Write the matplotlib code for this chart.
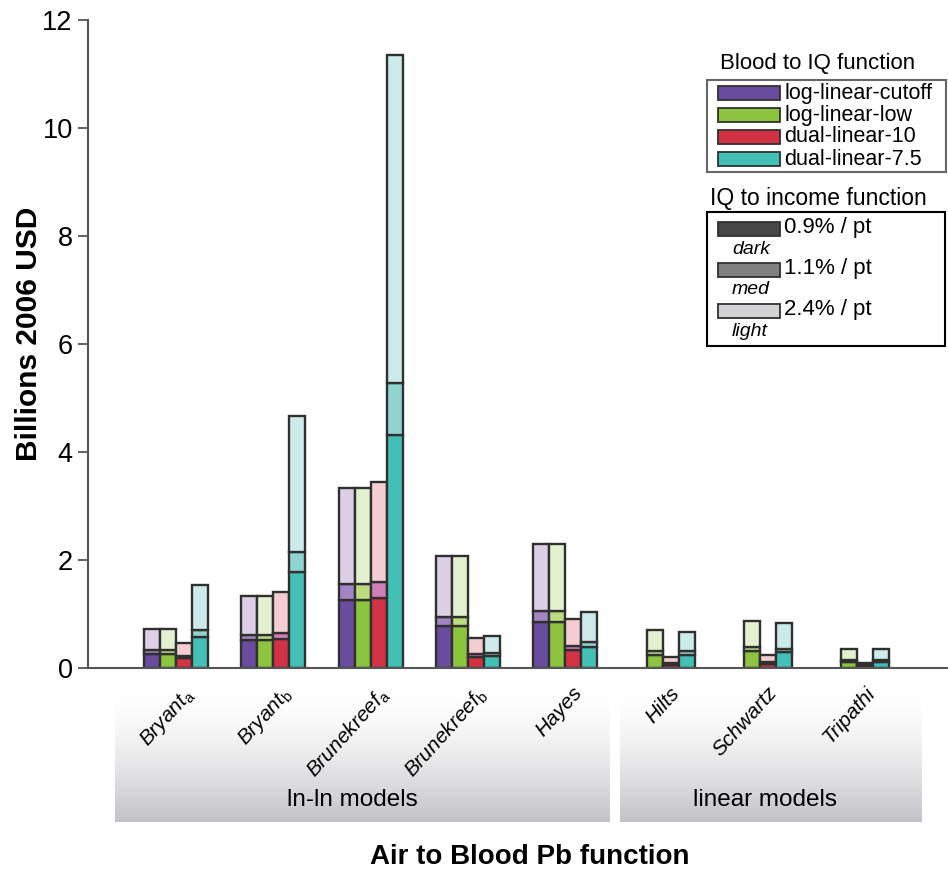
import numpy as np
import matplotlib
matplotlib.use("Agg")
import matplotlib.pyplot as plt
from matplotlib.patches import Rectangle

plt.rcParams["font.family"] = ["Liberation Sans", "DejaVu Sans"]
plt.rcParams["mathtext.fontset"] = "custom"
plt.rcParams["mathtext.rm"] = "Liberation Sans"
plt.rcParams["mathtext.it"] = "Liberation Sans:italic"

nan = np.nan

# Air to Blood Pb functions (x categories)
studies = [r"Bryant$_{\mathrm{a}}$", r"Bryant$_{\mathrm{b}}$",
           r"Brunekreef$_{\mathrm{a}}$", r"Brunekreef$_{\mathrm{b}}$",
           "Hayes", "Hilts", "Schwartz", "Tripathi"]
groups = ["ln-ln models", "linear models"]

# Blood to IQ functions
functions = ["log-linear-cutoff", "log-linear-low",
             "dual-linear-10", "dual-linear-7.5"]

# cumulative values (billions 2006 USD) for each IQ to income slope
cutoff_dark = [0.26, 0.51, 1.26, 0.78, 0.86, nan, nan, nan]
cutoff_med = [0.33, 0.61, 1.55, 0.95, 1.06, nan, nan, nan]
cutoff_light = [0.72, 1.33, 3.33, 2.07, 2.30, nan, nan, nan]

low_dark = [0.26, 0.51, 1.26, 0.78, 0.86, 0.25, 0.32, 0.12]
low_med = [0.33, 0.61, 1.55, 0.95, 1.06, 0.32, 0.39, 0.15]
low_light = [0.72, 1.33, 3.33, 2.07, 2.30, 0.71, 0.87, 0.36]

d10_dark = [0.18, 0.54, 1.30, 0.20, 0.33, 0.06, 0.08, 0.03]
d10_med = [0.22, 0.65, 1.59, 0.26, 0.40, 0.09, 0.12, 0.05]
d10_light = [0.46, 1.41, 3.44, 0.56, 0.90, 0.20, 0.25, 0.10]

d75_dark = [0.57, 1.77, 4.31, 0.22, 0.38, 0.24, 0.29, 0.12]
d75_med = [0.70, 2.15, 5.27, 0.27, 0.48, 0.31, 0.35, 0.15]
d75_light = [1.54, 4.67, 11.35, 0.60, 1.04, 0.67, 0.83, 0.35]

income_labels = ["0.9% / pt", "1.1% / pt", "2.4% / pt"]
shade_names = ["dark", "med", "light"]

series = [
    (cutoff_dark, cutoff_med, cutoff_light),
    (low_dark, low_med, low_light),
    (d10_dark, d10_med, d10_light),
    (d75_dark, d75_med, d75_light),
]

colors = [
    ("#6a4c9e", "#a285c2", "#dccfe6"),
    ("#8cc43f", "#bcdb80", "#e3f0d0"),
    ("#d23243", "#d07fbb", "#f3cdd2"),
    ("#43c0b6", "#8fd4d0", "#cdeaea"),
]
legend_grays = ["#474747", "#808080", "#d2d2d4"]
edge = "#303030"

W, H = 948, 872
fig = plt.figure(figsize=(W / 100, H / 100), dpi=100)


def fx(x):
    return x / W


def fy(y):
    return 1 - y / H


# gradient boxes behind the group labels
grad = np.linspace(0, 1, 200) ** 1.6
grad_img = np.ones((200, 2, 3))
for c, lo in enumerate([0.76, 0.76, 0.78]):
    grad_img[:, :, c] = (1 - grad * (1 - lo))[:, None]
for (x0, x1) in [(115, 610), (620, 922)]:
    gax = fig.add_axes([fx(x0), fy(822), fx(x1 - x0), (822 - 690) / H])
    gax.imshow(grad_img, aspect="auto", extent=[0, 1, 0, 1])
    gax.set_axis_off()
    gax.set_zorder(0)

ax = fig.add_axes([fx(88), fy(668), fx(W - 88), (668 - 20) / H])
ax.set_zorder(2)
ax.patch.set_alpha(0)

x = np.arange(len(studies))
w = 0.164
for i, ((dark, med, light), cols) in enumerate(zip(series, colors)):
    xpos = x + (i - 1.5) * w
    dark = np.array(dark)
    med = np.array(med)
    light = np.array(light)
    ax.bar(xpos, dark, w, color=cols[0], edgecolor=edge, linewidth=1.7)
    ax.bar(xpos, med - dark, w, bottom=dark, color=cols[1],
           edgecolor=edge, linewidth=1.7)
    ax.bar(xpos, light - med, w, bottom=med, color=cols[2],
           edgecolor=edge, linewidth=1.7)

ax.set_xlim(-0.903, 7.93)
ax.set_ylim(0, 12)
ax.set_yticks(range(0, 13, 2))
ax.set_xticks([])
ax.tick_params(axis="y", labelsize=19.5, length=7, width=1.3,
               color="#555555", pad=4)
for s in ["top", "right"]:
    ax.spines[s].set_visible(False)
for s in ["left", "bottom"]:
    ax.spines[s].set_color("#555555")
    ax.spines[s].set_linewidth(1.5)

ax.set_ylabel("Billions 2006 USD", fontsize=21.5, fontweight="bold")
ax.yaxis.set_label_coords(-0.052, 0.515)

for xi, name in zip(x, studies):
    ax.text(xi + 0.07, -0.024, name, transform=ax.get_xaxis_transform(),
            rotation=48, rotation_mode="anchor", ha="right", va="top",
            fontsize=15, style="italic")

fig.text(fx(352), fy(800), groups[0], ha="center", va="center",
         fontsize=17.5)
fig.text(fx(765), fy(800), groups[1], ha="center", va="center",
         fontsize=17.5)
fig.text(fx(530), fy(857), "Air to Blood Pb function", ha="center",
         va="center", fontsize=20, fontweight="bold")

# legend: Blood to IQ function
fig.text(fx(720), fy(63), "Blood to IQ function", ha="left", va="center",
         fontsize=16)
fig.patches.append(Rectangle((fx(707), fy(172)), fx(948 - 707 - 2),
                             (172 - 80) / H, transform=fig.transFigure,
                             facecolor="white", edgecolor="#666666",
                             linewidth=1.5))
for k, (name, cols) in enumerate(zip(functions, colors)):
    yc = 93 + 22 * k
    fig.patches.append(Rectangle((fx(718), fy(yc + 7)), fx(62), 14 / H,
                                 transform=fig.transFigure,
                                 facecolor=cols[0], edgecolor=edge,
                                 linewidth=1.3))
    fig.text(fx(784), fy(yc), name, ha="left", va="center", fontsize=15.5)

# legend: IQ to income function
fig.text(fx(710), fy(198), "IQ to income function", ha="left",
         va="center", fontsize=16.5)
fig.patches.append(Rectangle((fx(707), fy(346)), fx(945 - 707),
                             (346 - 212) / H, transform=fig.transFigure,
                             facecolor="white", edgecolor="black",
                             linewidth=1.5))
for k, (lab, shade, g) in enumerate(zip(income_labels, shade_names,
                                        legend_grays)):
    yc = 229 + 41 * k
    fig.patches.append(Rectangle((fx(718), fy(yc + 7)), fx(62), 14 / H,
                                 transform=fig.transFigure,
                                 facecolor=g, edgecolor=edge,
                                 linewidth=1.3))
    fig.text(fx(784), fy(yc - 2), lab, ha="left", va="center",
             fontsize=16)
    fig.text(fx(732), fy(yc + 20), shade, ha="left", va="center",
             fontsize=14, style="italic")

fig.savefig("out.png", dpi=100)
